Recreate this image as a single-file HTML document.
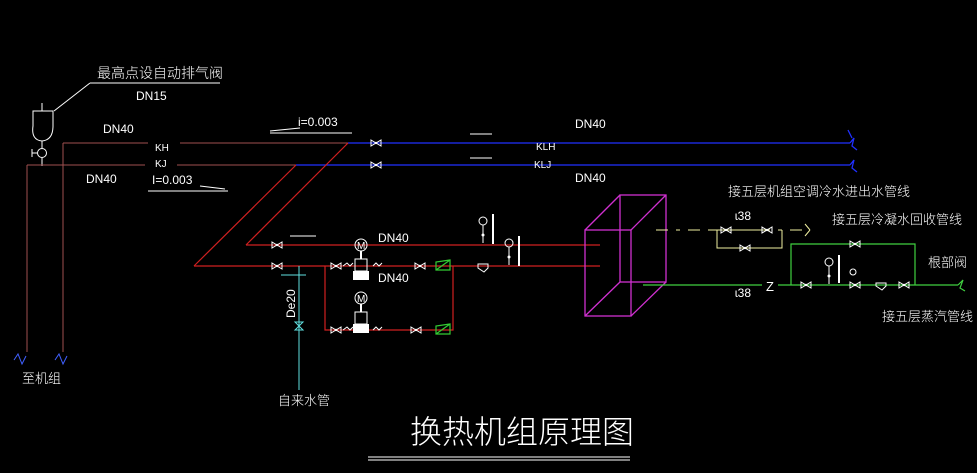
<!DOCTYPE html>
<html><head><meta charset="utf-8"><style>
body{margin:0;background:#000;}
svg{display:block;}
text{font-family:"Liberation Sans","Noto Sans CJK SC",sans-serif;fill:#fff;}
.cjk{font-family:"Noto Sans CJK SC","WenQuanYi Zen Hei",sans-serif;font-weight:300;}
</style></head><body>
<svg width="977" height="473" viewBox="0 0 977 473" xmlns="http://www.w3.org/2000/svg">
<defs>
<g id="v"><path d="M-5,-3 L5,3 L5,-3 L-5,3 Z" fill="none" stroke="#fff" stroke-width="1"/><circle cx="0" cy="0" r="1.2" fill="#fff"/></g>
<g id="pump">
<circle cx="0" cy="0" r="6" fill="none" stroke="#fff"/><text x="-4" y="4" font-size="10">M</text>
<line x1="0" y1="6" x2="0" y2="14" stroke="#fff" stroke-width="2"/>
<rect x="-6" y="14" width="12" height="12" fill="none" stroke="#fff"/>
<rect x="-8" y="26" width="16" height="9" fill="#fff"/>
</g>
<g id="chk"><path d="M-7,-4 L-7,4 L7,4 L7,-6 Z M-7,4 L7,-6" fill="none" stroke="#3c3" stroke-width="1.2"/></g>
<g id="gauge"><circle cx="0" cy="0" r="4" fill="none" stroke="#fff"/><line x1="0" y1="4" x2="0" y2="22" stroke="#fff"/><circle cx="0" cy="14" r="1.5" fill="#fff"/></g>
</defs>

<!-- air vent -->
<g stroke="#fff" fill="none" stroke-width="1">
<line x1="42" y1="103" x2="42" y2="111"/>
<path d="M33,111 L53,111 L53,126 Q53,140 42,141 Q31,140 33,126 Z"/>
<line x1="42" y1="141" x2="42" y2="148"/>
<circle cx="42" cy="153" r="4.5"/>
<line x1="32" y1="153" x2="37" y2="153"/><line x1="32" y1="149" x2="32" y2="157"/>
<line x1="42" y1="158" x2="42" y2="166"/>
<line x1="54" y1="111" x2="90" y2="83"/><line x1="90" y1="83" x2="220" y2="83"/>
<line x1="270" y1="133" x2="352" y2="133"/><line x1="270" y1="131" x2="300" y2="128"/>
<line x1="148" y1="191" x2="228" y2="191"/><line x1="200" y1="186" x2="225" y2="189"/>
</g>
<text class="cjk" x="97" y="78" font-size="14">最高点设自动排气阀</text>
<text x="136" y="100" font-size="12">DN15</text>
<text x="103" y="133" font-size="12">DN40</text>
<text x="86" y="183" font-size="12">DN40</text>
<text x="298" y="126" font-size="12">i=0.003</text>
<text x="152" y="184" font-size="12">I=0.003</text>
<text x="155" y="151" font-size="10">KH</text>
<text x="155" y="167" font-size="10">KJ</text>

<!-- brown pipes left -->
<g stroke="#a05050" fill="none" stroke-width="1">
<line x1="27" y1="165" x2="27" y2="352"/>
<line x1="63" y1="143" x2="63" y2="352"/>
<line x1="63" y1="143" x2="148" y2="143"/><line x1="180" y1="143" x2="348" y2="143"/>
<line x1="27" y1="165" x2="145" y2="165"/><line x1="177" y1="165" x2="296" y2="165"/>
</g>
<g stroke="#4060ff" fill="none" stroke-width="1">
<path d="M14,360 l4,-6 l4,10 l4,-8"/><path d="M55,360 l4,-6 l4,10 l4,-8"/>
</g>
<text class="cjk" x="22" y="383" font-size="13">至机组</text>

<!-- blue pipes -->
<g stroke="#2030ff" stroke-width="1.3" fill="none">
<line x1="348" y1="143" x2="850" y2="143"/>
<line x1="296" y1="165" x2="850" y2="165"/>
<path d="M850,143 l4,-5 l-2,8 l5,4 M850,165 l4,-5 l-2,8 l5,4 M848,130 l4,8"/>
</g>
<use href="#v" x="376" y="143"/><use href="#v" x="376" y="165"/>
<g stroke="#fff"><line x1="470" y1="134" x2="492" y2="134"/><line x1="470" y1="158" x2="492" y2="158"/></g>
<text x="536" y="150" font-size="10">KLH</text>
<text x="534" y="168" font-size="10">KLJ</text>
<text x="575" y="128" font-size="12">DN40</text>
<text x="575" y="182" font-size="12">DN40</text>

<!-- red pipes -->
<g stroke="#d02020" stroke-width="1.2" fill="none">
<line x1="348" y1="143" x2="246" y2="245"/>
<line x1="296" y1="165" x2="194" y2="266"/>
<line x1="246" y1="245" x2="600" y2="245"/>
<line x1="194" y1="266" x2="600" y2="266"/>
<path d="M325,266 L325,330 L453,330 L453,266"/>
</g>
<g stroke="#fff"><line x1="290" y1="236" x2="316" y2="236"/></g>
<use href="#v" x="277" y="245"/><use href="#v" x="277" y="266"/>
<use href="#v" x="336" y="266"/><use href="#v" x="420" y="266"/>
<use href="#v" x="336" y="330"/><use href="#v" x="416" y="330"/>
<use href="#pump" x="361" y="245"/><use href="#pump" x="361" y="298"/>
<g stroke="#fff" fill="none"><path d="M343,266 l4,-3 l3,3 l3,-3 M373,266 l3,-3 l3,3 l3,-3 M343,330 l4,-3 l3,3 l3,-3 M373,330 l3,-3 l3,3 l3,-3"/></g>
<use href="#chk" x="443" y="266"/><use href="#chk" x="443" y="330"/>
<text x="378" y="242" font-size="12">DN40</text>
<text x="378" y="282" font-size="12">DN40</text>
<use href="#gauge" x="483" y="221"/><rect x="492" y="214" width="2" height="30" fill="#fff"/>
<use href="#gauge" x="509" y="243"/><rect x="518" y="236" width="2" height="30" fill="#fff"/>
<path d="M478,264 h10 v4 l-4,4 l-6,-4 z" stroke="#fff" fill="none"/>

<!-- cyan -->
<g stroke="#60e0e0" fill="none">
<line x1="299" y1="266" x2="299" y2="390"/>
<line x1="281" y1="275" x2="306" y2="275"/>
<path d="M295,322 L303,322 L295,330 L303,330 Z"/>
</g>
<text transform="translate(295,318) rotate(-90)" font-size="12">De20</text>
<text class="cjk" x="278" y="405" font-size="13">自来水管</text>

<!-- magenta box -->
<g stroke="#d030d0" fill="none" stroke-width="1.3">
<rect x="585" y="230" width="46" height="86"/>
<rect x="620" y="195" width="46" height="87"/>
<line x1="585" y1="230" x2="620" y2="195"/><line x1="631" y1="230" x2="666" y2="195"/>
<line x1="585" y1="316" x2="620" y2="282"/><line x1="631" y1="316" x2="666" y2="282"/>
</g>

<!-- yellow -->
<g stroke="#f0f0a0" fill="none">
<path d="M656,230 h12 M676,230 h4 M688,230 h12 M708,230 h62 M778,230 h4 M790,230 h12 M810,230 l-5,-6 M810,230 l-5,6"/>
<path d="M717,230 V248 H782 V230"/>
</g>
<use href="#v" x="726" y="230"/><use href="#v" x="767" y="230"/><use href="#v" x="745" y="248"/>
<text x="735" y="220" font-size="12">ɩ38</text>
<text x="735" y="297" font-size="12">ɩ38</text>

<!-- green -->
<g stroke="#40d040" fill="none" stroke-width="1.2">
<line x1="643" y1="285" x2="762" y2="285"/><line x1="778" y1="285" x2="958" y2="285"/>
<path d="M791,285 V244 H915 V285"/>
<path d="M958,285 l5,-5 l-3,8 l5,3"/>
</g>
<use href="#v" x="806" y="285"/><use href="#v" x="855" y="244"/><use href="#v" x="855" y="285"/><use href="#v" x="904" y="285"/>
<use href="#gauge" x="829" y="262"/><rect x="838" y="255" width="2" height="28" fill="#fff"/>
<circle cx="853" cy="272" r="3" fill="none" stroke="#fff"/>
<path d="M876,283 h10 v3 l-4,4 l-6,-4 z" stroke="#fff" fill="none"/>
<text x="766" y="291" font-size="13">Z</text>
<text class="cjk" x="728" y="196" font-size="13">接五层机组空调冷水进出水管线</text>
<text class="cjk" x="832" y="224" font-size="13">接五层冷凝水回收管线</text>
<text class="cjk" x="928" y="267" font-size="13">根部阀</text>
<text class="cjk" x="882" y="321" font-size="13">接五层蒸汽管线</text>

<!-- title -->
<text class="cjk" x="410" y="443" font-size="32" font-weight="200">换热机组原理图</text>
<g stroke="#fff"><line x1="368" y1="457" x2="630" y2="457"/><line x1="368" y1="460" x2="630" y2="460"/></g>
</svg>
</body></html>
